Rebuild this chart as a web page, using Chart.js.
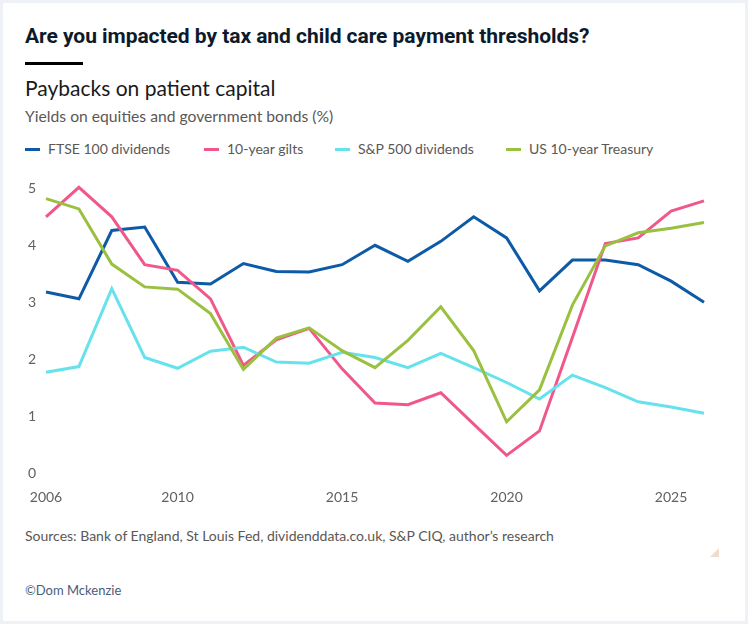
<!DOCTYPE html>
<html>
<head>
<meta charset="utf-8">
<script src="https://cdn.jsdelivr.net/npm/chart.js@4.4.1/dist/chart.umd.min.js"></script>
<style>
    html, body { margin: 0; padding: 0; }
    body { width: 748px; height: 624px; background: #eef2f6; position: relative; overflow: hidden; font-family: Lato, "Open Sans", sans-serif; }
    .card { position: absolute; left: 3px; top: 3px; width: 742px; height: 618px; background: #fff; }
    .abs { position: absolute; white-space: nowrap; }
    #title { left: 25px; top: 24px; font-family: Roboto, sans-serif; font-weight: 700; font-size: 21px; letter-spacing: -0.05px; color: #0d1a2b; }
    #bar { left: 25px; top: 62px; width: 58px; height: 3px; background: #000; }
    #subtitle { left: 25px; top: 75px; font-size: 21px; font-weight: 400; color: #1a1a1a; }
    #yields { left: 25px; top: 107px; font-size: 15.7px; color: #5a5756; }
    .legend { top: 140px; font-size: 14px; color: #5a5756; }
    .legend i { position: absolute; left: -23px; top: 8px; width: 15px; height: 3px; }
    #sources { left: 25px; top: 527px; font-size: 14px; color: #5a5756; }
    #credit { left: 25px; top: 582px; font-size: 13px; color: #4a5d7a; }
    #corner { left: 710px; top: 548px; width: 0; height: 0; border-left: 9px solid transparent; border-bottom: 9px solid #efdccb; }
    #wrap { position: absolute; left: 0; top: 170px; width: 748px; height: 340px; }
</style>
</head>
<body>
<div class="card"></div>
<div class="abs" id="title">Are you impacted by tax and child care payment thresholds?</div>
<div class="abs" id="bar"></div>
<div class="abs" id="subtitle">Paybacks on patient capital</div>
<div class="abs" id="yields">Yields on equities and government bonds (%)</div>
<div id="legend"></div>
<div id="wrap"><canvas id="chart"></canvas></div>
<div class="abs" id="sources">Sources: Bank of England, St Louis Fed, dividenddata.co.uk, S&amp;P CIQ, author’s research</div>
<div class="abs" id="corner"></div>
<div class="abs" id="credit">©Dom Mckenzie</div>

<script>
// Données
const years = [2006, 2007, 2008, 2009, 2010, 2011, 2012, 2013, 2014, 2015, 2016,
               2017, 2018, 2019, 2020, 2021, 2022, 2023, 2024, 2025, 2026];
const ftse = [3.18, 3.06, 4.26, 4.32, 3.35, 3.32, 3.68, 3.54, 3.53, 3.66, 4.00,
              3.72, 4.07, 4.50, 4.13, 3.20, 3.74, 3.74, 3.66, 3.37, 3.00];
const gilts = [4.50, 5.02, 4.50, 3.66, 3.56, 3.06, 1.89, 2.34, 2.54, 1.83, 1.23,
               1.20, 1.41, 0.86, 0.31, 0.74, 2.38, 4.03, 4.13, 4.60, 4.78];
const sp500 = [1.77, 1.87, 3.24, 2.03, 1.84, 2.14, 2.21, 1.95, 1.93, 2.12, 2.03,
               1.85, 2.10, 1.85, 1.59, 1.30, 1.72, 1.50, 1.25, 1.16, 1.05];
const treasury = [4.82, 4.64, 3.67, 3.27, 3.23, 2.80, 1.82, 2.37, 2.55, 2.15, 1.85,
                  2.33, 2.92, 2.15, 0.90, 1.46, 2.95, 3.99, 4.22, 4.30, 4.40];
const xTicks = [2006, 2010, 2015, 2020, 2025];
const yTicks = [0, 1, 2, 3, 4, 5];

const seriesNames = ['FTSE 100 dividends', '10-year gilts', 'S&P 500 dividends', 'US 10-year Treasury'];
const seriesColors = ['#0d5aa6', '#f0588a', '#66e2ec', '#9ac040'];
const seriesData = [ftse, gilts, sp500, treasury];
const legendX = [48, 227, 358, 529];

// Légende en HTML
const legendEl = document.getElementById('legend');
seriesNames.forEach((name, i) => {
    const d = document.createElement('div');
    d.className = 'abs legend';
    d.style.left = legendX[i] + 'px';
    d.innerHTML = '<i style="background:' + seriesColors[i] + '"></i>' + name.replace('&', '&amp;');
    legendEl.appendChild(d);
});

const tickFont = { family: 'Lato, sans-serif', size: 14 };
const tickColor = '#66605c';

new Chart(document.getElementById('chart'), {
    type: 'line',
    data: {
        datasets: seriesData.map((vals, i) => ({
            label: seriesNames[i],
            data: years.map((y, j) => ({ x: y, y: vals[j] })),
            borderColor: seriesColors[i],
            backgroundColor: seriesColors[i],
            borderWidth: 3,
            pointRadius: 0,
            tension: 0,
            clip: false,
            order: seriesData.length - i
        }))
    },
    options: {
        responsive: true,
        maintainAspectRatio: false,
        animation: false,
        layout: { padding: { left: 0, right: 44, top: 17, bottom: 0 } },
        plugins: {
            legend: { display: false },
            tooltip: { enabled: false }
        },
        scales: {
            x: {
                type: 'linear',
                min: 2006,
                max: 2026,
                grid: { display: false, drawTicks: false },
                border: { display: false },
                afterBuildTicks: scale => { scale.ticks = xTicks.map(v => ({ value: v })); },
                afterFit: scale => { scale.height = 37; },
                ticks: {
                    padding: 16,
                    maxRotation: 0,
                    autoSkip: false,
                    color: tickColor,
                    font: tickFont,
                    callback: v => String(v)
                }
            },
            y: {
                min: 0,
                max: 5,
                grid: { display: false, drawTicks: false },
                border: { display: false },
                afterBuildTicks: scale => { scale.ticks = yTicks.map(v => ({ value: v })); },
                afterFit: scale => { scale.width = 46; },
                ticks: {
                    padding: 10,
                    color: tickColor,
                    font: tickFont,
                    callback: v => String(v)
                }
            }
        }
    }
});
</script>
</body>
</html>
